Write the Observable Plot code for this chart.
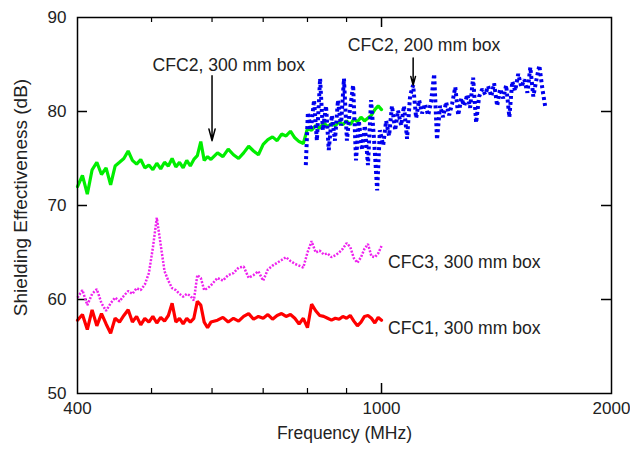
<!DOCTYPE html>
<html><head><meta charset="utf-8">
<script src="https://cdn.jsdelivr.net/npm/d3@7"></script>
<script src="https://cdn.jsdelivr.net/npm/@observablehq/plot@0.6"></script>
<style>body{margin:0;background:#fff}</style>
</head><body><div id="chart"></div>
<script>
// Frequency grid (MHz) shared by the 300 mm box curves
const freq = [400,406,412,418,424,430,436,442,448,454,460,466,472,478,484,490,496,502,508,514,520,526,532,538,544,550,556,562,568,574,580,586,592,598,
  610,620,630,640,650,660,670,680,690,700,710,720,730,740,750,760,770,780,790,800,810,820,830,840,850,860,870,880,890,900,910,920,930,940,950,960,970,980,990,1000];

// CFC2, 300 mm box (dB)
const cfc2_300 = [72.0,73.2,71.2,73.8,74.6,73.3,74.0,72.2,74.2,74.6,75.0,75.8,74.8,74.4,74.9,74.0,74.3,73.8,74.5,73.9,74.6,74.2,75.0,74.1,74.6,74.0,74.8,74.2,74.9,75.3,76.8,74.8,75.2,74.9,
  75.6,75.2,76.0,75.4,75.0,75.6,76.3,75.8,75.4,76.5,77.0,77.3,76.9,77.6,77.4,77.9,77.2,76.8,76.6,78.2,78.0,78.5,78.2,78.8,78.4,78.7,78.5,78.9,78.6,79.0,78.6,79.2,78.9,79.4,79.0,79.3,79.6,80.2,80.6,80.2];

// CFC3, 300 mm box (dB)
const cfc3_300 = [60.2,61.0,59.4,60.6,61.1,59.6,58.8,59.6,60.2,59.8,60.4,60.9,60.6,61.2,61.0,61.6,62.8,65.5,68.7,65.8,63.0,62.0,61.2,61.0,60.6,60.3,60.6,60.4,59.9,62.6,62.3,61.0,61.2,61.5,
  62.3,62.0,62.6,62.8,63.4,63.5,62.3,62.6,63.0,62.0,63.2,63.6,63.9,64.2,64.5,64.1,63.8,63.6,63.4,65.0,66.2,65.0,65.2,64.8,64.9,64.5,64.7,65.0,65.4,66.0,65.6,64.4,63.9,64.5,65.4,65.9,64.6,64.5,64.9,65.7];

// CFC1, 300 mm box (dB)
const cfc1_300 = [57.8,58.4,56.8,58.9,57.2,58.5,57.4,56.4,58.0,57.6,58.3,58.9,57.6,58.2,57.3,58.0,57.6,58.2,57.5,58.1,57.7,58.3,59.6,57.6,58.0,57.4,58.0,57.6,58.0,59.8,59.4,57.6,57.0,57.6,
  57.8,58.1,57.6,58.0,57.7,58.2,58.5,57.9,58.2,58.0,58.4,57.9,58.3,58.5,58.2,58.4,58.0,57.4,58.0,57.0,59.5,58.8,58.3,58.2,58.0,57.8,58.0,57.9,58.2,58.0,58.3,57.7,57.2,57.6,58.2,58.3,58.0,57.5,58.1,57.8];

// CFC2, 200 mm box: frequency (MHz) and SE (dB)
const freq200 = [796,801,808,816,823,831,838,846,853,861,869,877,885,893,901,909,918,926,934,943,951,960,969,978,987,995,
  1005,1014,1023,1032,1042,1051,1061,1070,1080,1090,1100,1110,1120,1130,1140,1151,1161,1172,1182,1193,1204,1215,1226,1237,1249,1260,1272,1283,1295,1306,1318,1330,1342,1355,1367,1379,1392,1404,1417,1430,1443,1456,1470,1483,1496,1510,1524,1538,1552,1566,1580,1595,1609,1624,1638];
const cfc2_200 = [74.3,79.9,78.0,81.2,76.9,83.5,78.0,80.6,75.9,79.6,76.9,81.2,78.5,83.5,76.9,80.1,82.8,74.8,79.0,75.9,78.5,74.3,81.2,76.9,71.6,78.0,
  76.4,79.0,77.4,80.6,78.0,80.1,78.5,80.6,77.1,81.7,82.8,79.3,81.2,79.8,80.8,79.6,81.0,84.0,77.0,80.6,79.4,81.0,79.6,80.8,82.6,79.6,81.4,80.6,81.8,80.4,83.6,78.8,81.6,82.4,81.8,82.7,81.6,83.0,80.6,82.4,81.4,82.8,79.4,83.2,82.2,84.0,82.6,83.4,82.0,84.7,81.6,83.4,84.9,82.4,80.5];

// Axis ticks
const xTickLabels = [400, 1000, 2000];
const xMinorTicks = [500, 600, 700, 800, 900];
const xMajorTicks = [1000];
const yTickLabels = [50, 60, 70, 80, 90];
const yInnerTicks = [60, 70, 80];

// Annotations
const topText = ["CFC2, 300 mm box", "CFC2, 200 mm box"];
const topX = [631, 1137];
const topY = [84.95, 87.0];
const sideText = ["CFC3, 300 mm box", "CFC1, 300 mm box"];
const sideX = [1020, 1020];
const sideY = [63.9, 56.95];
const arrowX = [600, 1100];
const arrowFrom = [83.8, 85.7];
const arrowTo = [76.9, 82.8];

const mk = (xs, ys) => xs.map((x, i) => ({x, y: ys[i]}));
const topAnnos = topText.map((t, i) => ({t, x: topX[i], y: topY[i]}));
const sideAnnos = sideText.map((t, i) => ({t, x: sideX[i], y: sideY[i]}));
const arrows = arrowX.map((x, i) => ({x, y1: arrowFrom[i], y2: arrowTo[i]}));

const chart = Plot.plot({
  width: 630, height: 450,
  marginLeft: 77, marginRight: 19, marginTop: 17, marginBottom: 57,
  style: {fontFamily: "'Liberation Sans', Arial, sans-serif", fontSize: "17px", color: "#222", background: "#fff"},
  x: {type: "log", domain: [400, 2000]},
  y: {domain: [50, 90]},
  marks: [
    Plot.axisX(xTickLabels, {tickSize: 0, tickPadding: 8, tickFormat: d => String(d), label: null}),
    Plot.axisY(yTickLabels, {tickSize: 0, tickPadding: 11, tickFormat: d => String(d), label: null}),
    Plot.ruleX(xMinorTicks, {insetTop: 371, stroke: "#000", strokeWidth: 1.2}),
    Plot.ruleX(xMinorTicks, {insetBottom: 371, stroke: "#000", strokeWidth: 1.2}),
    Plot.ruleX(xMajorTicks, {insetTop: 366, stroke: "#000", strokeWidth: 1.5}),
    Plot.ruleX(xMajorTicks, {insetBottom: 366, stroke: "#000", strokeWidth: 1.5}),
    Plot.ruleY(yInnerTicks, {insetRight: 524, stroke: "#000", strokeWidth: 1.5}),
    Plot.ruleY(yInnerTicks, {insetLeft: 524, stroke: "#000", strokeWidth: 1.5}),
    Plot.line(mk(freq, cfc3_300), {x: "x", y: "y", stroke: "#ee22ee", strokeWidth: 2.5, strokeDasharray: "2,1.5", strokeLinecap: "butt", strokeLinejoin: "miter"}),
    Plot.line(mk(freq, cfc1_300), {x: "x", y: "y", stroke: "#ff0000", strokeWidth: 3.2, strokeLinejoin: "miter"}),
    Plot.line(mk(freq, cfc2_300), {x: "x", y: "y", stroke: "#00ee00", strokeWidth: 3.2, strokeLinejoin: "miter"}),
    Plot.line(mk(freq200, cfc2_200), {x: "x", y: "y", stroke: "#0000ee", strokeWidth: 4, strokeDasharray: "3,3", strokeLinecap: "butt", strokeLinejoin: "miter"}),
    Plot.arrow(arrows, {x1: "x", x2: "x", y1: "y1", y2: "y2", stroke: "#000", strokeWidth: 1.5, headLength: 12, headAngle: 30}),
    Plot.text(topAnnos, {x: "x", y: "y", text: "t", textAnchor: "middle", fill: "#222", fontSize: 17.6}),
    Plot.text(sideAnnos, {x: "x", y: "y", text: "t", textAnchor: "start", fill: "#222", fontSize: 17.6}),
    Plot.text(["Frequency (MHz)"], {frameAnchor: "bottom", dy: 45, textAnchor: "middle", fill: "#222", fontSize: 17.5}),
    Plot.text(["Shielding Effectiveness (dB)"], {frameAnchor: "left", textAnchor: "middle", rotate: -90, dx: -57, dy: -8, fill: "#222", fontSize: 19}),
    Plot.frame({stroke: "#000", strokeWidth: 1.5})
  ]
});
document.getElementById("chart").appendChild(chart);
</script>
</body></html>
